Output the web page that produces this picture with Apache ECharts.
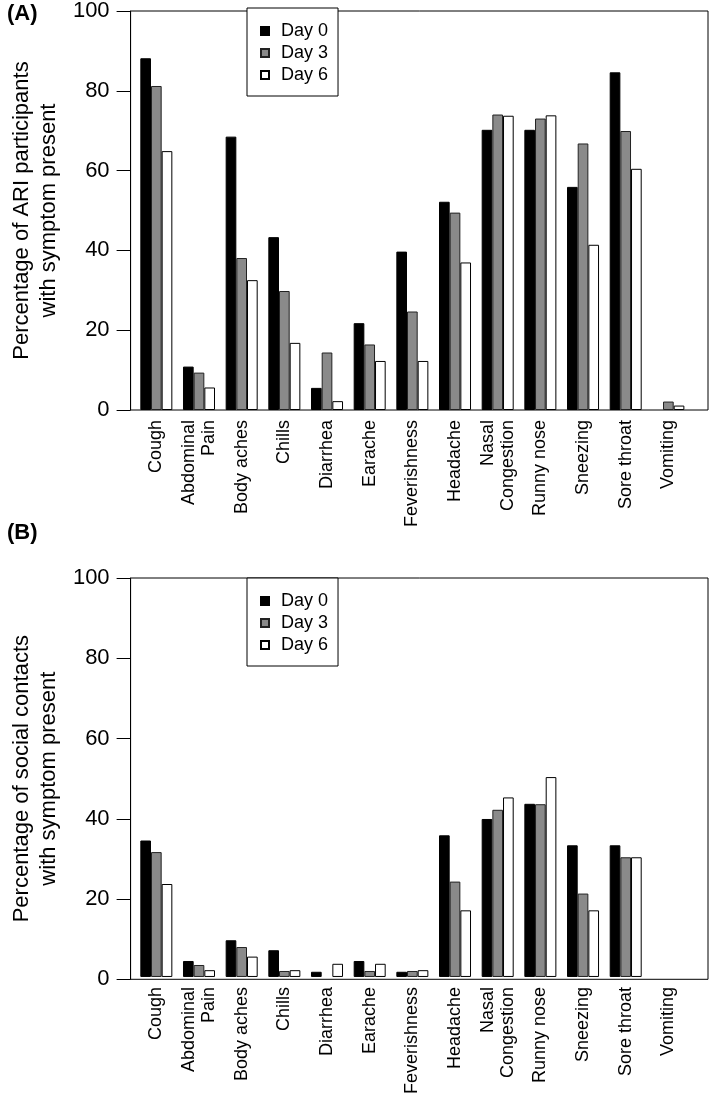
<!DOCTYPE html>
<html>
<head>
<meta charset="utf-8">
<script src="https://cdn.jsdelivr.net/npm/echarts@6/dist/echarts.min.js"></script>
<style>
html,body{margin:0;padding:0;background:#fff;}
#chart{width:709px;height:1097px;}
</style>
</head>
<body>
<div id="chart"></div>
<script>
var categories = ['Cough','Abdominal\nPain','Body aches','Chills','Diarrhea','Earache','Feverishness','Headache','Nasal\nCongestion','Runny nose','Sneezing','Sore throat','Vomiting'];
var seriesNames = ['Day 0','Day 3','Day 6'];
var yTicks = [0,20,40,60,80,100];

// Panel A: ARI participants
var ariDay0 = [87.5, 10.8, 68.0, 43.0, 5.5, 21.6, 39.4, 51.8, 69.7, 69.7, 55.5, 84.0, 0];
var ariDay3 = [80.6, 9.3, 37.8, 29.6, 14.3, 16.3, 24.5, 49.1, 73.5, 72.5, 66.3, 69.4, 2.1];
var ariDay6 = [64.4, 5.6, 32.3, 16.7, 2.2, 12.2, 12.2, 36.7, 73.2, 73.3, 41.1, 60.0, 1.1];

// Panel B: social contacts
var scDay0 = [34.2, 4.0, 9.2, 6.7, 1.3, 4.0, 1.3, 35.5, 39.6, 43.4, 33.0, 33.0, 0];
var scDay3 = [31.3, 3.0, 7.5, 1.5, 0, 1.5, 1.5, 23.9, 41.9, 43.3, 20.9, 30.0, 0];
var scDay6 = [23.3, 1.7, 5.1, 1.7, 3.3, 3.3, 1.7, 16.7, 45.0, 50.1, 16.7, 30.0, 0];

var FONT = '"Liberation Sans", Arial, Helvetica, sans-serif';
var fills = ['#000000', '#8a8a8a', '#ffffff'];
var borders = ['#000000', '#222222', '#000000'];

var chart = echarts.init(document.getElementById('chart'), null, {renderer: 'canvas'});

var panels = [
  {top: 8, height: 402, title: 'Percentage of ARI participants\nwith symptom present', data: [ariDay0, ariDay3, ariDay6]},
  {top: 578, height: 401.3, title: 'Percentage of social contacts\nwith symptom present', data: [scDay0, scDay3, scDay6]}
];

var grids = [], xAxes = [], yAxes = [], series = [], legends = [];
panels.forEach(function (p, i) {
  // frame grid (box + value axis)
  grids.push({left: 119, top: p.top, width: 589, height: p.height, show: true, borderColor: '#000', borderWidth: 1, backgroundColor: 'transparent'});
  // data grid (bars + category labels)
  grids.push({left: 135, top: p.top, width: 554.7, height: p.height});
  var fg = i * 2, dg = i * 2 + 1;
  xAxes.push({gridIndex: fg, type: 'value', show: false});
  yAxes.push({
    gridIndex: fg, type: 'value', min: yTicks[0], max: yTicks[yTicks.length - 1], interval: 20,
    axisLine: {show: true, lineStyle: {color: '#000', width: 1}},
    axisTick: {show: true, inside: false, length: 14, lineStyle: {color: '#000', width: 1}},
    axisLabel: {margin: 21, fontSize: 22, color: '#000', fontFamily: FONT},
    splitLine: {show: false},
    name: p.title, nameLocation: 'middle', nameRotate: 90, nameGap: 65,
    nameTextStyle: {fontSize: 22, lineHeight: 27, color: '#000', fontFamily: FONT, align: 'center'}
  });
  xAxes.push({
    gridIndex: dg, type: 'category', data: categories,
    axisLine: {show: false}, axisTick: {show: false},
    axisLabel: {rotate: 90, margin: 10, fontSize: 18, lineHeight: 20, color: '#000', fontFamily: FONT, interval: 0}
  });
  yAxes.push({gridIndex: dg, type: 'value', min: 0, max: 100, interval: 20, show: false});
  p.data.forEach(function (arr, k) {
    series.push({
      name: seriesNames[k], type: 'bar', xAxisIndex: dg, yAxisIndex: dg,
      // a zero value has no visible bar in the reference
      data: arr.map(function (v) { return v === 0 ? '-' : v; }),
      barWidth: 10.67, barGap: '0%',
      itemStyle: {color: fills[k], borderColor: borders[k], borderWidth: 1},
      emphasis: {disabled: true}, animation: false
    });
  });
  legends.push({
    orient: 'vertical', left: 247, top: p.top, width: 91,
    padding: [12, 10, 10, 13],
    borderColor: '#000', borderWidth: 1, backgroundColor: '#fff',
    itemWidth: 8, itemHeight: 8, itemGap: 0, icon: 'rect', selectedMode: false,
    textStyle: {fontSize: 18, lineHeight: 22, color: '#000', fontFamily: FONT, padding: [0, 0, 0, 7]},
    data: seriesNames
  });
});

chart.setOption({
  animation: false,
  backgroundColor: '#fff',
  title: [
    {text: '(A)', left: 7, top: 3, textStyle: {fontSize: 22, fontWeight: 'bold', color: '#000', fontFamily: FONT}, padding: 0},
    {text: '(B)', left: 7, top: 522, textStyle: {fontSize: 22, fontWeight: 'bold', color: '#000', fontFamily: FONT}, padding: 0}
  ],
  grid: grids, xAxis: xAxes, yAxis: yAxes, series: series, legend: legends
});
</script>
</body>
</html>
